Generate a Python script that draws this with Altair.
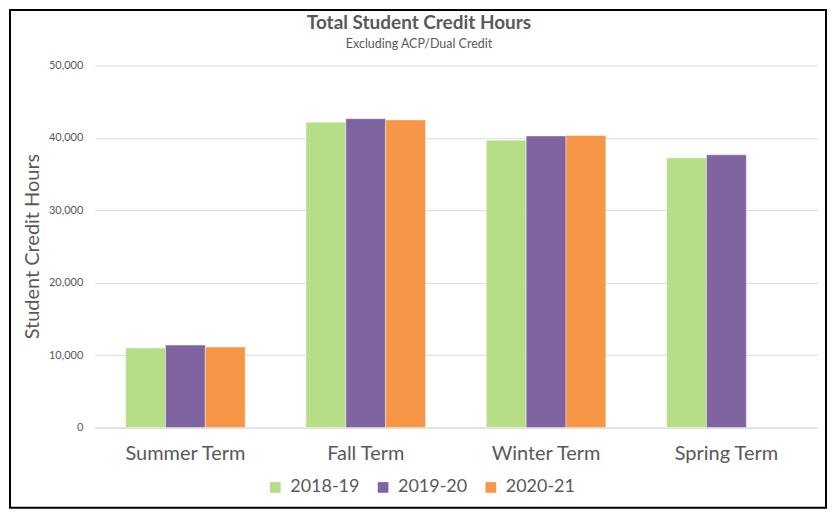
import altair as alt
import pandas as pd

terms = ["Summer Term", "Fall Term", "Winter Term", "Spring Term"]
years = ["2018-19", "2019-20", "2020-21"]
hours_2018_19 = [10980, 42150, 39670, 37240]
hours_2019_20 = [11390, 42660, 40270, 37660]
hours_2020_21 = [11120, 42480, 40320, None]
colors = ["#B6DE87", "#8064A2", "#F79646"]

rows = []
for yr, vals in zip(years, [hours_2018_19, hours_2019_20, hours_2020_21]):
    for t, v in zip(terms, vals):
        if v is not None:
            rows.append({"Term": t, "Year": yr, "Hours": v})
df = pd.DataFrame(rows)

FONT = "Lato"
TXT = "#595959"

bars = alt.Chart(df).mark_bar(stroke="white", strokeWidth=0.6, strokeOpacity=0.7).encode(
    x=alt.X("Term:N", sort=terms,
            scale=alt.Scale(paddingInner=0.337, paddingOuter=0.171),
            axis=alt.Axis(title=None, labelAngle=0, labelFontSize=20, labelFont=FONT,
                          labelColor=TXT, labelPadding=16, ticks=False,
                          domainColor="#d9d9d9", domainWidth=1)),
    xOffset=alt.XOffset("Year:N", sort=years, scale=alt.Scale(domain=years, paddingInner=0, paddingOuter=0)),
    y=alt.Y("Hours:Q", scale=alt.Scale(domain=[0, 50000], nice=False),
            axis=alt.Axis(title="Student Credit Hours", values=[0, 10000, 20000, 30000, 40000, 50000],
                          format=",.0f", labelFontSize=11, labelFont=FONT, labelColor=TXT,
                          labelPadding=12, ticks=False, domain=False,
                          gridColor="#d9d9d9", gridWidth=1,
                          titleFontSize=20, titleFont=FONT, titleColor=TXT, titleFontWeight="normal",
                          titleAngle=-90, titleX=-62, titleY=181, titleAlign="center",
                          titleBaseline="middle")),
    color=alt.Color("Year:N", sort=years, scale=alt.Scale(domain=years, range=colors),
                    legend=alt.Legend(title=None, orient="none", direction="horizontal",
                                      legendX=172, legendY=414, symbolType="square",
                                      symbolSize=114, symbolStrokeWidth=0, labelFontSize=18,
                                      labelFont=FONT, labelColor=TXT, labelOffset=6,
                                      columnPadding=14)),
)

border = alt.Chart(alt.Data(values=[{}])).mark_rect(
    filled=False, stroke="black", strokeWidth=2
).encode(
    x=alt.value(-85), x2=alt.value(733), y=alt.value(-55.5), y2=alt.value(443.3)
)

chart = alt.layer(bars, border).properties(
    width=724,
    height=363,
    title=alt.TitleParams(
        text="Total Student Credit Hours",
        subtitle="Excluding ACP/Dual Credit",
        font=FONT, fontSize=19, fontWeight="bold", color=TXT,
        subtitleFont=FONT, subtitleFontSize=12.5, subtitleColor=TXT,
        subtitlePadding=5, anchor="middle", dx=-37, offset=-41,
    ),
    autosize=alt.AutoSizeParams(type="none"),
    padding={"left": 87, "top": 57, "right": 11, "bottom": 82},
).configure_view(stroke=None)

chart.save("out.html", embed_options={"renderer": "svg", "actions": False})
